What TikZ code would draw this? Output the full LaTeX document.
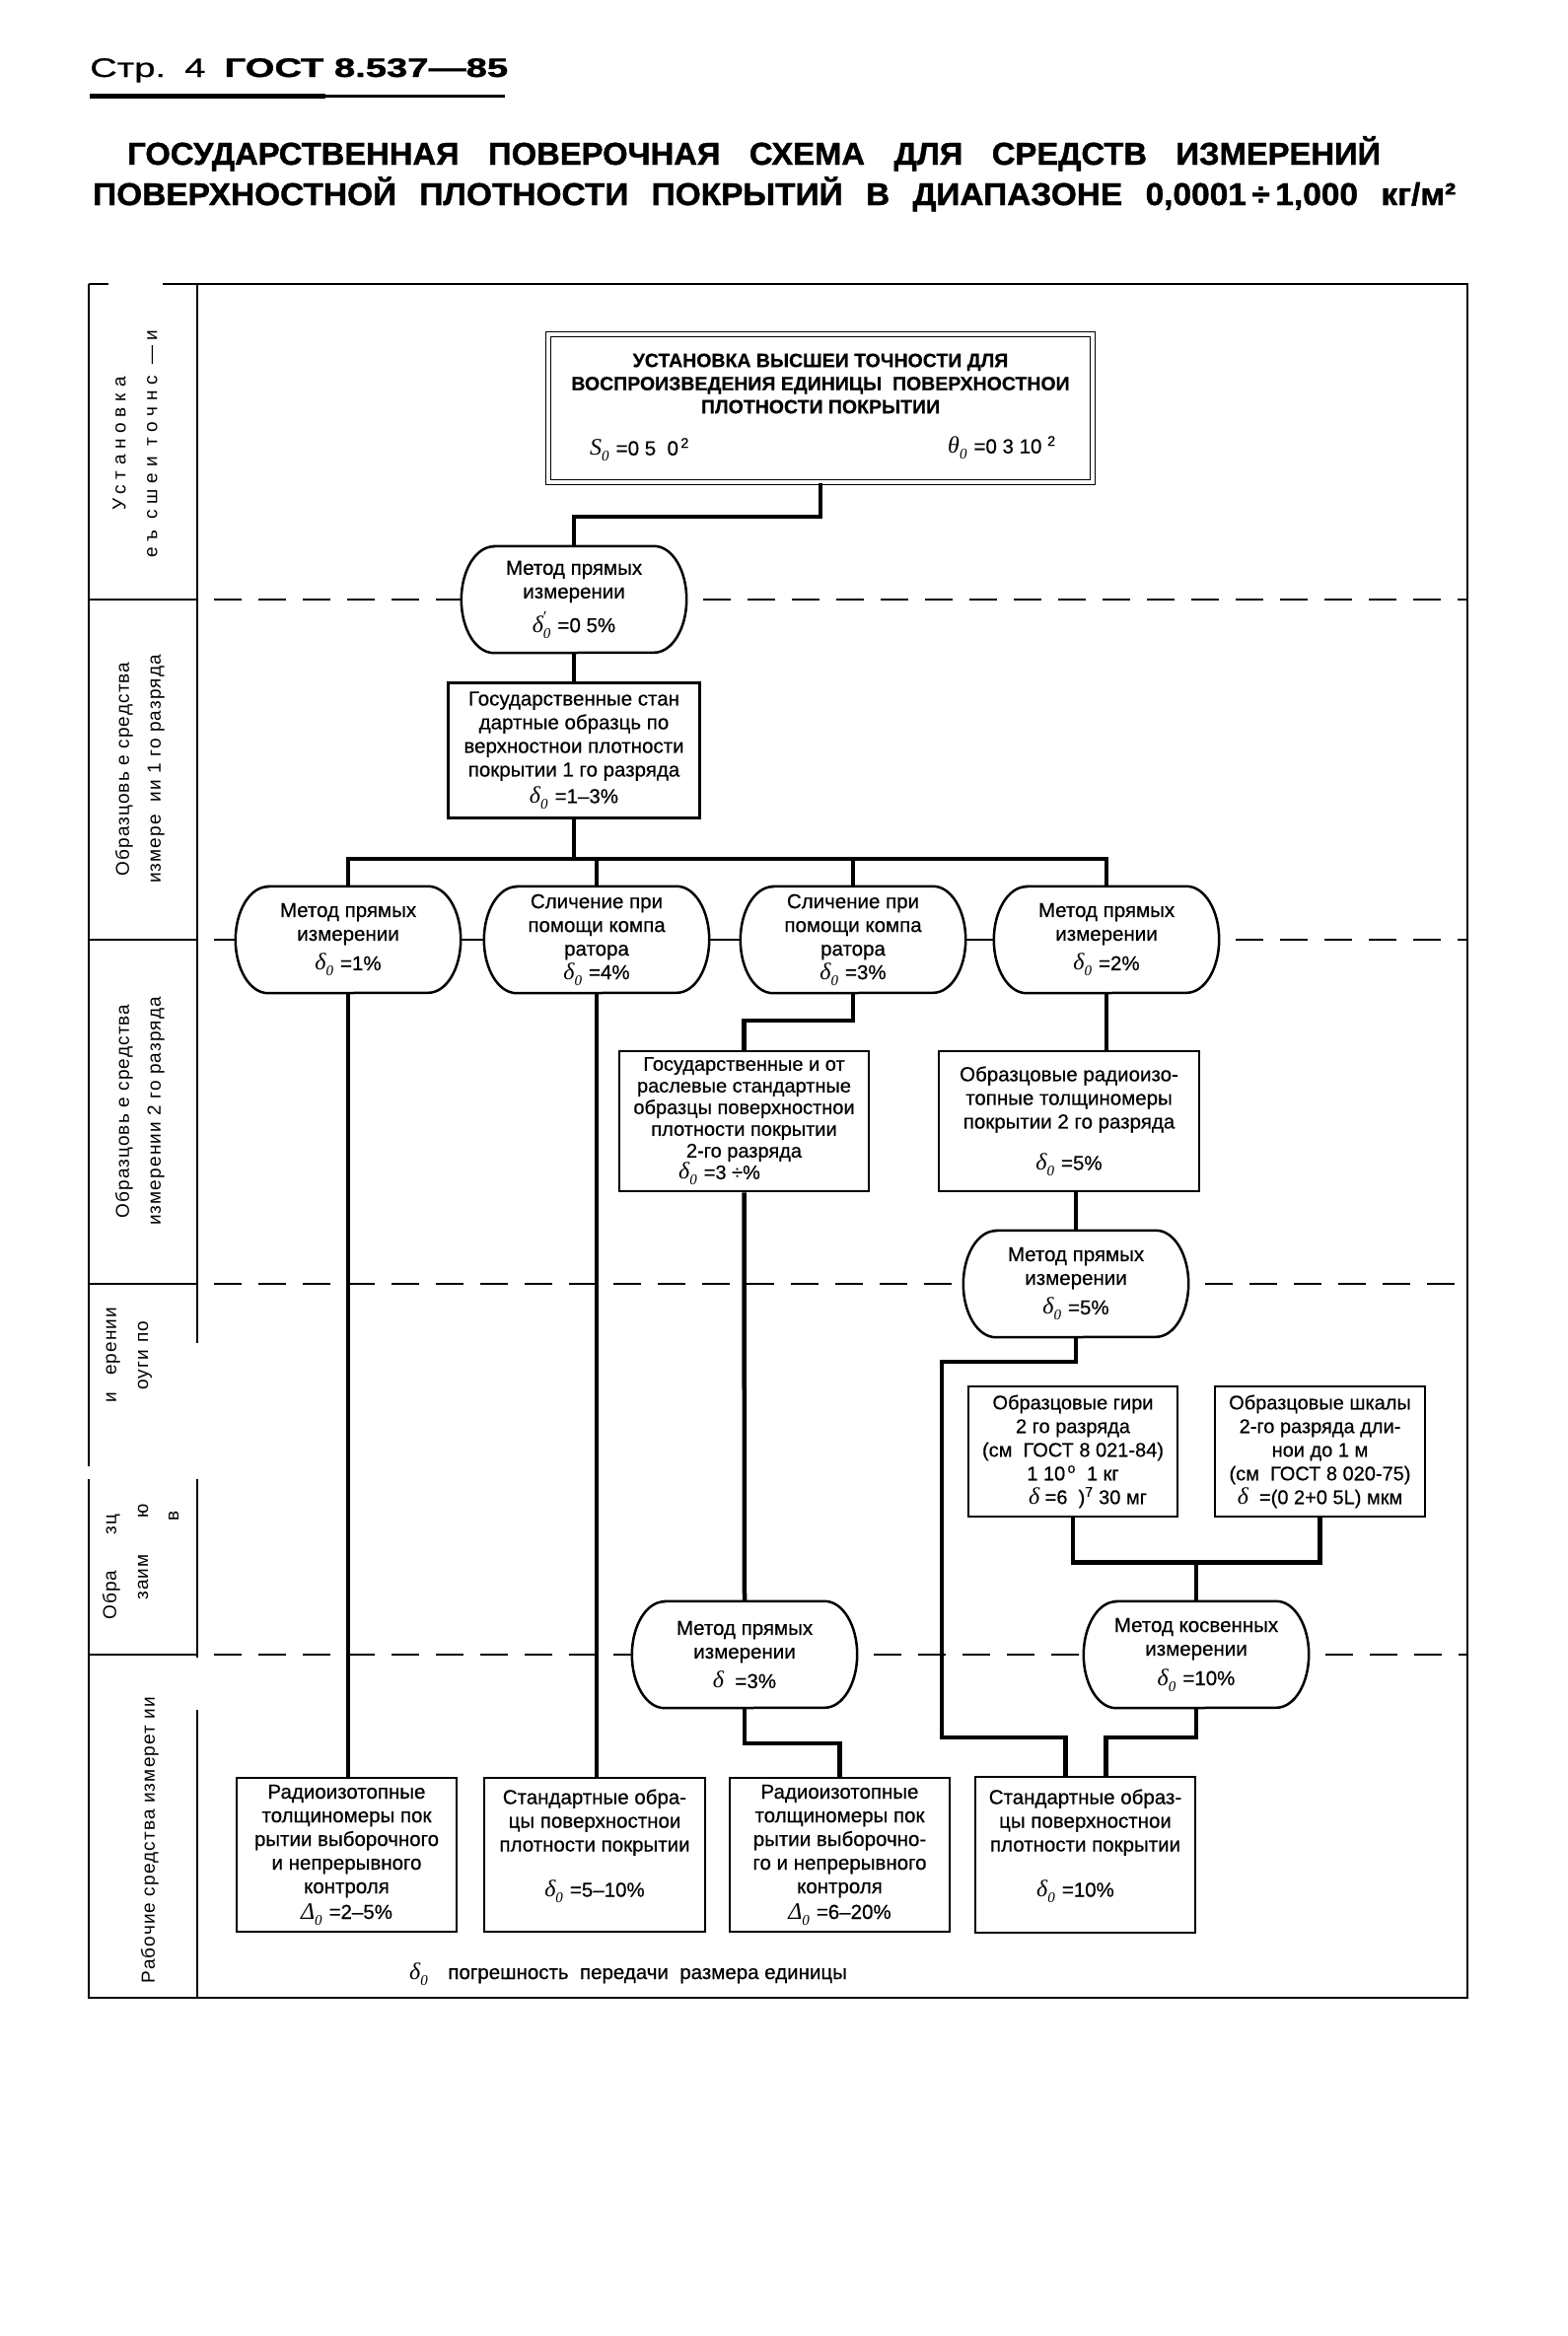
\documentclass[tikz,border=0pt]{standalone}
\usepackage{graphicx}
\usepackage{fontspec}
\setmainfont{Liberation Sans}[FakeBold=0.5]
\newfontfamily\ttlfam{Liberation Sans}[UprightFont={* Bold}, FakeBold=1.2]
\newfontfamily\sidefam{Liberation Sans}[LetterSpace=6]
\newfontfamily\sidewide{Liberation Sans}[LetterSpace=30]
\newfontfamily\grk{Liberation Serif}
\usetikzlibrary{calc}
\newcommand\bxf{\fontsize{20.5}{24}\selectfont}
\newcommand\sdf{\sidefam\fontsize{19}{32}\selectfont}
\newcommand\sdw{\sidewide\fontsize{19}{32}\selectfont}
\newcommand\gsym[1]{{\grk\itshape\fontsize{24}{24}\selectfont #1}}
\newcommand\gsub[1]{\raisebox{-6pt}{\grk\itshape\fontsize{15}{15}\selectfont #1}}
\newcommand\dz{\gsym{δ}\gsub{0}\hspace{7pt}}
\newcommand\dd{\gsym{δ}}
\newcommand\Dz{\gsym{Δ}\gsub{0}\hspace{7pt}}
\newcommand\ovl[1]{\draw[ovalline] ($(#1.north west)+(33,0)$) -- ($(#1.north east)+(-33,0)$) arc[start angle=90,end angle=-90,x radius=33pt,y radius=54pt] -- ($(#1.south west)+(33,0)$) arc[start angle=270,end angle=90,x radius=33pt,y radius=54pt] -- cycle;}
\begin{document}
\begin{tikzpicture}[x=1pt,y=-1pt,
  frameline/.style={line width=2.5pt},
  conn/.style={line width=4.5pt},
  boxnode/.style={draw, line width=2.5pt, align=center, inner sep=0pt, font=\bxf},
  topbox/.style={draw, line width=1.6pt, double, double distance=3.5pt, inner sep=0pt},
  ovalnode/.style={align=center, inner sep=0pt, minimum width=228pt, minimum height=108pt, font=\bxf},
  ovalline/.style={line width=2.5pt},
  rowdash/.style={line width=2.5pt, dash pattern=on 28pt off 17pt, dash phase=28pt},
  rowsolid/.style={line width=2.5pt},
  sidelabel/.style={rotate=90, align=center, inner sep=0pt, font=\sdf},
  piece/.style={rotate=90, anchor=west, inner sep=0pt, font=\sdf}]
\fill[white] (0,0) rectangle (1590,2369);
\useasboundingbox (0,0) rectangle (1590,2369);

% header
\node[anchor=base west, inner sep=0pt, font=\fontsize{27}{30}\selectfont] (hdr) at (91,78)
  {\resizebox{424pt}{\height}{Стр.\enspace 4\enspace {\ttlfam ГОСТ 8.537—85}}};
\draw[line width=5pt] (91,97) -- (330,97);
\draw[line width=3pt] (330,97) -- (512,97);

% title
\node[anchor=base west, inner sep=0pt, font=\ttlfam\fontsize{32}{36}\selectfont] (ttl1) at (129,167)
  {\resizebox{1271pt}{\height}{ГОСУДАРСТВЕННАЯ\hspace{0.9em}ПОВЕРОЧНАЯ\hspace{0.9em}СХЕМА\hspace{0.9em}ДЛЯ\hspace{0.9em}СРЕДСТВ\hspace{0.9em}ИЗМЕРЕНИЙ}};
\node[anchor=base west, inner sep=0pt, font=\ttlfam\fontsize{32}{36}\selectfont] (ttl2) at (94,208)
  {\resizebox{1382pt}{\height}{ПОВЕРХНОСТНОЙ\hspace{0.7em}ПЛОТНОСТИ\hspace{0.7em}ПОКРЫТИЙ\hspace{0.7em}В\hspace{0.7em}ДИАПАЗОНЕ\hspace{0.7em}0,0001\,÷\,1,000\hspace{0.7em}кг/м²}};

% frame
\draw[frameline] (90,288) -- (110,288);
\draw[frameline] (165,288) -- (1488,288) -- (1488,2026) -- (90,2026) -- (90,1500);
\draw[frameline] (90,1487) -- (90,288);
\draw[frameline] (200,288) -- (200,1362);
\draw[frameline] (200,1500) -- (200,1681);
\draw[frameline] (200,1734) -- (200,2026);
\foreach \yy in {608,953,1302,1678} \draw[frameline] (90,\yy) -- (200,\yy);

% side labels
\node[sidelabel, font=\sdw] (lab1) at (137,450) {Установка\\еъ сшеи точнс —и};
\node[sidelabel] (lab2) at (142,780) {Образцовь е средства\\измере\ \ ии 1 го разряда};
\node[sidelabel] (lab3) at (142,1127) {Образцовь е средства\\измерении 2 го разряда};
\node[piece] (lab4a) at (113,1643) {\rlap{Обра}\hspace{86pt}\rlap{зц}\hspace{134pt}\rlap{и}\hspace{28pt}ерении};
\node[piece] (lab4b) at (147,1623) {\rlap{заим}\hspace{83pt}\rlap{ю}\hspace{130pt}\rlap{оуги}\hspace{48pt}по};
\node[sidelabel] (lab4c) at (176,1537) {в};
\node[sidelabel] (lab5) at (152,1866) {Рабочие средства измерет ии};

% top box
\node[topbox, minimum width=552pt, minimum height=150pt] (top) at (832,414) {};
\node[align=center, inner sep=0pt, font=\bfseries\fontsize{19.5}{23.5}\selectfont] (toptxt) at (832,389)
  {УСТАНОВКА ВЫСШЕИ ТОЧНОСТИ ДЛЯ\\ВОСПРОИЗВЕДЕНИЯ ЕДИНИЦЫ\ \ ПОВЕРХНОСТНОИ\\ПЛОТНОСТИ ПОКРЫТИИ};
\node[anchor=west, inner sep=0pt, font=\bxf] (s0) at (598,456) {\gsym{S}\gsub{0}\hspace{7pt}=0 5\ \ 0\textsuperscript{\,2}};
\node[anchor=west, inner sep=0pt, font=\bxf] (th0) at (961,454) {\gsym{θ}\gsub{0}\hspace{7pt}=0 3\ 10\ \textsuperscript{2}};

% ovals and boxes
\node[ovalnode] (o1) at (582,608) {Метод прямых\\измерении\\[8pt]\gsym{δ}\rlap{\raisebox{10pt}{\grk\fontsize{17}{17}\selectfont ′}}\gsub{0}\hspace{7pt}=0 5\%};
\node[boxnode, minimum width=255pt, minimum height=137pt] (b1) at (582,761)
  {Государственные стан\\дартные образць по\\верхностнои плотности\\покрытии 1 го разряда\\[3pt]\dz =1–3\%};

\node[ovalnode] (A) at (353,953) {Метод прямых\\измерении\\[6pt]\dz =1\%};
\node[ovalnode] (B) at (605,953) {Сличение при\\помощи компа\\ратора\\\dz =4\%};
\node[ovalnode] (C) at (865,953) {Сличение при\\помощи компа\\ратора\\\dz =3\%};
\node[ovalnode] (D) at (1122,953) {Метод прямых\\измерении\\[6pt]\dz =2\%};

\node[boxnode, minimum width=253pt, minimum height=142pt, font=\fontsize{20}{22}\selectfont] (E) at (754.5,1137)
  {Государственные и от\\раслевые стандартные\\образцы поверхностнои\\плотности покрытии\\2-го разряда\\\hspace*{-50pt}\dz =3 ÷\%};
\node[boxnode, minimum width=264pt, minimum height=142pt] (G) at (1084,1137)
  {Образцовые радиоизо-\\топные толщиномеры\\покрытии 2 го разряда\\[18pt]\dz =5\%};
\node[ovalnode] (H) at (1091,1302) {Метод прямых\\измерении\\[6pt]\dz =5\%};

\node[boxnode, minimum width=212pt, minimum height=132pt, font=\fontsize{20}{24}\selectfont] (K) at (1088,1472)
  {Образцовые гири\\2 го разряда\\(см\ \ ГОСТ 8 021-84)\\1\ 10\textsuperscript{\,o}\ \ 1 кг\\\hspace*{30pt}\dd\ =6\ \ )\textsuperscript{7}\ 30 мг};
\node[boxnode, minimum width=213pt, minimum height=132pt, font=\fontsize{20}{24}\selectfont] (L) at (1338.5,1472)
  {Образцовые шкалы\\2-го разряда дли-\\нои до 1 м\\(см\ \ ГОСТ 8 020-75)\\\dd\ \ =(0 2+0 5L) мкм};

\node[ovalnode] (F) at (755,1678) {Метод прямых\\измерении\\[6pt]\dd\ \ =3\%};
\node[ovalnode] (I) at (1213,1678) {Метод косвенных\\измерении\\[6pt]\dz =10\%};

\node[boxnode, minimum width=223pt, minimum height=156pt] (N) at (351.5,1881)
  {Радиоизотопные\\толщиномеры пок\\рытии выборочного\\и непрерывного\\контроля\\[2pt]\Dz =2–5\%};
\node[boxnode, minimum width=224pt, minimum height=156pt] (O) at (603,1881)
  {Стандартные обра-\\цы поверхностнои\\плотности покрытии\\[22pt]\dz =5–10\%\\ \mbox{}};
\node[boxnode, minimum width=223pt, minimum height=156pt] (M) at (851.5,1881)
  {Радиоизотопные\\толщиномеры пок\\рытии выборочно-\\го и непрерывного\\контроля\\[2pt]\Dz =6–20\%};
\node[boxnode, minimum width=223pt, minimum height=158pt] (J) at (1100.5,1881)
  {Стандартные образ-\\цы поверхностнои\\плотности покрытии\\[22pt]\hspace*{-20pt}\dz =10\%\\ \mbox{}};

\node[anchor=base west, inner sep=0pt, font=\bxf] (foot) at (415,2007)
  {\gsym{δ}\gsub{0}\quad погрешность\ \ передачи\ \ размера единицы};

% oval outlines
\foreach \n in {o1,A,B,C,D,H,F,I} {\ovl{\n}}

% row lines through the chart
\draw[rowdash] (200,608) -- (o1.west);
\draw[rowdash] (o1.east) -- (1488,608);
\draw[rowdash] (200,953) -- (A.west);
\draw[rowsolid] (A.east) -- (B.west);
\draw[rowsolid] (B.east) -- (C.west);
\draw[rowsolid] (C.east) -- (D.west);
\draw[rowdash] (D.east) -- (1488,953);
\draw[rowdash] (200,1302) -- (H.west);
\draw[rowdash] (H.east) -- (1488,1302);
\draw[rowdash] (200,1678) -- (F.west);
\draw[rowdash] (F.east) -- (I.west);
\draw[rowdash] (I.east) -- (1488,1678);

% connectors
\draw[conn] (top.south) -- ++(0,34) -| (o1.north);
\draw[conn] (o1.south) -- (b1.north);
\draw[conn] (b1.south) -- ++(0,40) coordinate (busc);
\draw[conn] (A.north) -- (A.north |- busc) -- (D.north |- busc) -- (D.north);
\draw[conn] (B.north) -- (B.north |- busc);
\draw[conn] (C.north) -- (C.north |- busc);
\draw[conn] (C.south) -- ++(0,28) -| (E.north);
\draw[conn] (D.south) -- (D.south |- G.north);
\draw[conn] (H.north |- G.south) -- (H.north);
\draw[conn] (E.south) -- (F.north);
\draw[conn] (A.south) -- (A.south |- N.north);
\draw[conn] (B.south) -- (B.south |- O.north);
\coordinate (vbend) at (955,1762);
\draw[conn] (H.south) -- ++(0,25) -| (vbend) -| ([xshift=-20pt]J.north);
\draw[conn] (I.south) -- ++(0,30) -| ([xshift=21pt]J.north);
\draw[conn] (K.south) -- ++(0,45) coordinate (kl) -| (L.south);
\draw[conn] (I.north) -- (I.north |- kl);
\draw[conn] (F.south) -- ++(0,36) -| (M.north);
\end{tikzpicture}
\end{document}
